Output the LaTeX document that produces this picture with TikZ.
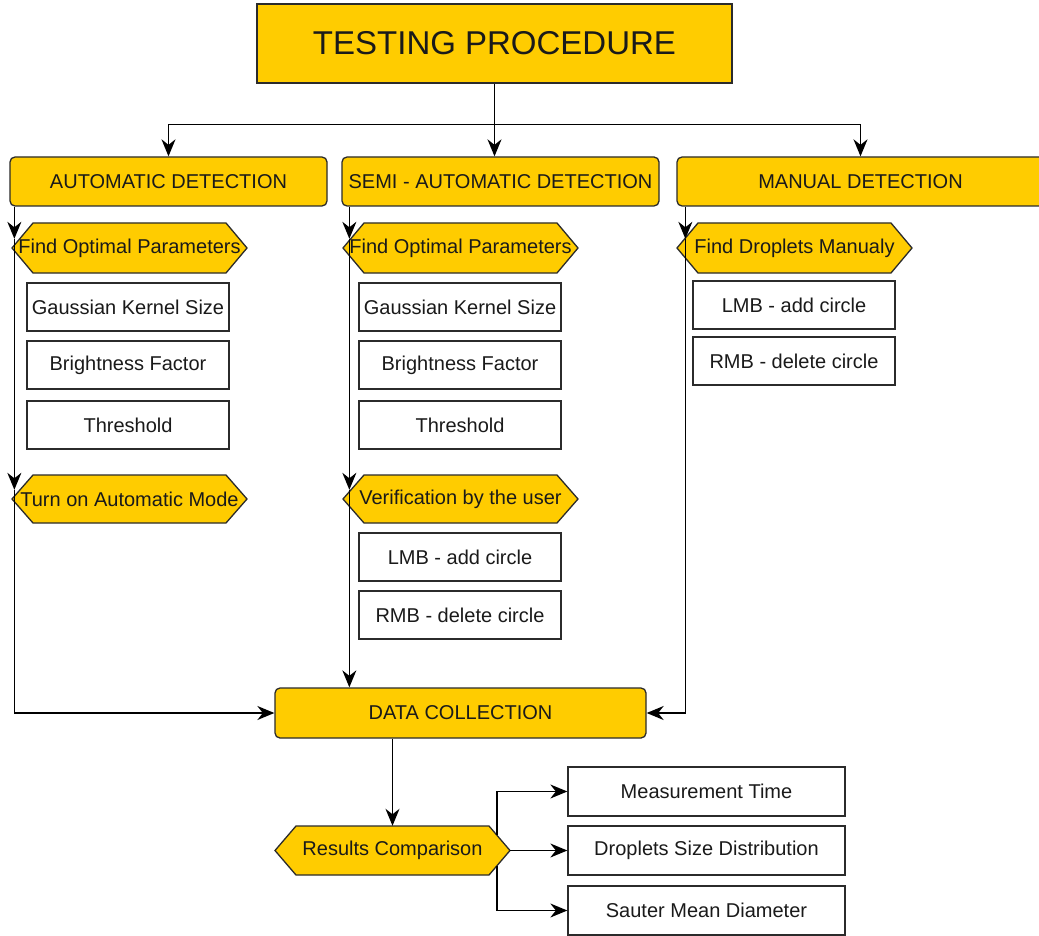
\documentclass[tikz,border=0pt]{standalone}
\usepackage{fontspec}
\setmainfont{Liberation Sans}
\usetikzlibrary{arrows.meta,calc}
\definecolor{yel}{HTML}{FFCC00}
\definecolor{edgec}{HTML}{2B2B2B}
\definecolor{txtc}{HTML}{1A1A1A}
\tikzset{
  lw/.style={line width=1.3pt},
  ybox/.style={draw=edgec, lw, fill=yel, inner sep=0pt, text=txtc, font=\fontsize{20}{23}\selectfont},
  rbox/.style={ybox, rounded corners=5pt},
  wbox/.style={draw=edgec, lw, fill=white, inner sep=0pt, text=txtc, font=\fontsize{20}{23}\selectfont},
  hexlabel/.style={inner sep=0pt, text=txtc, font=\fontsize{20}{23}\selectfont},
  conn/.style={draw=black, line width=1.5pt},
  arr/.style={conn, -{Stealth[length=17pt,width=14pt,inset=5.5pt]}},
}
\newcommand\mybox[7]{% style, name, x1, x2, y1, y2, text
  \node[#1, minimum width={#4pt-#3pt}, minimum height={#6pt-#5pt}] (#2) at ({(#3+#4)/2},{(#5+#6)/2}) {#7};
}
\newcommand\myhex[6]{% name, x1, x2, y1, y2, text
  \draw[edgec, lw, fill=yel] (#2,{(#4+#5)/2}) -- (#2+21,#4) -- (#3-21,#4) -- (#3,{(#4+#5)/2}) -- (#3-21,#5) -- (#2+21,#5) -- cycle;
  \node[hexlabel, minimum width={#3pt-#2pt}, minimum height={#5pt-#4pt}] (#1) at ({(#2+#3)/2},{(#4+#5)/2}) {\raisebox{-1pt}{#6}};
}
\begin{document}
\begin{tikzpicture}[x=1pt,y=-1pt]
\useasboundingbox[fill=white] (0,0) rectangle (1039,936);
\clip (0,0) rectangle (1039,936);

% main boxes
\mybox{ybox, font=\fontsize{33}{36}\selectfont}{top}{257}{732}{4}{83}{TESTING PROCEDURE}
\mybox{rbox}{auto}{10}{327}{157}{206}{AUTOMATIC DETECTION}
\mybox{rbox}{semi}{342}{659}{157}{206}{SEMI - AUTOMATIC DETECTION}
\mybox{rbox}{manual}{677}{1044}{157}{206}{MANUAL DETECTION}

% automatic column
\myhex{fop1}{12}{247}{223}{273}{Find Optimal Parameters}
\mybox{wbox}{g1}{27}{229}{283}{331}{Gaussian Kernel Size}
\mybox{wbox}{b1}{27}{229}{341}{389}{Brightness Factor}
\mybox{wbox}{t1}{27}{229}{401}{449}{Threshold}
\myhex{tam}{12}{247}{475}{523}{Turn on Automatic Mode}

% semi-automatic column
\myhex{fop2}{343}{578}{223}{273}{Find Optimal Parameters}
\mybox{wbox}{g2}{359}{561}{283}{331}{Gaussian Kernel Size}
\mybox{wbox}{b2}{359}{561}{341}{389}{Brightness Factor}
\mybox{wbox}{t2}{359}{561}{401}{449}{Threshold}
\myhex{ver}{343}{578}{475}{523}{Verification by the user}
\mybox{wbox}{l2}{359}{561}{533}{581}{LMB - add circle}
\mybox{wbox}{r2}{359}{561}{591}{639}{RMB - delete circle}

% manual column
\myhex{fdm}{677}{912}{223}{273}{Find Droplets Manualy}
\mybox{wbox}{l3}{693}{895}{281}{329}{LMB - add circle}
\mybox{wbox}{r3}{693}{895}{337}{385}{RMB - delete circle}

% data collection and results
\mybox{rbox}{data}{275}{646}{688}{738}{DATA COLLECTION}
\myhex{res}{275}{510}{826}{875}{Results Comparison}
\mybox{wbox}{mt}{568}{845}{767}{816}{Measurement Time}
\mybox{wbox}{dsd}{568}{845}{826}{875}{Droplets Size Distribution}
\mybox{wbox}{smd}{568}{845}{886}{935}{Sauter Mean Diameter}

% top distribution
\path (top.south) ++(0,41) coordinate (j);
\draw[conn] (top.south) -- (j);
\draw[arr] (j) -| (auto.north);
\draw[arr] (j) -| (manual.north);
\draw[arr] (j) -- (j |- semi.north);

% automatic chain
\coordinate (la) at ([xshift=5pt]auto.south west);
\path (la |- fop1.north) ++(0,16) coordinate (la1);
\path (la |- tam.north) ++(0,15) coordinate (la2);
\draw[arr] (la) -- (la1);
\draw[arr] (la1) -- (la2);
\draw[arr] (la2) |- (data.west);

% semi chain
\coordinate (ls) at ([xshift=8pt]semi.south west);
\path (ls |- fop2.north) ++(0,16) coordinate (ls1);
\path (ls |- ver.north) ++(0,15) coordinate (ls2);
\draw[arr] (ls) -- (ls1);
\draw[arr] (ls1) -- (ls2);
\draw[arr] (ls2) -- (ls2 |- data.north);

% manual chain
\coordinate (lm) at ([xshift=9pt]manual.south west);
\path (lm |- fdm.north) ++(0,16) coordinate (lm1);
\draw[arr] (lm) -- (lm1);
\draw[arr] (lm1) |- (data.east);

% results
\draw[arr] (res.north |- data.south) -- (res.north);
\path (res.east) ++(-13,-15.7) coordinate (rb1);
\path (res.east) ++(-13,15.7) coordinate (rb2);
\draw[arr] (rb1) |- (mt.west);
\draw[arr] (res.east) -- (dsd.west);
\draw[arr] (rb2) |- (smd.west);
\end{tikzpicture}
\end{document}
